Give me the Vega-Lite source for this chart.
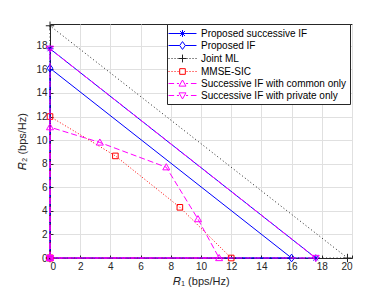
{
  "$schema": "https://vega.github.io/schema/vega-lite/v6.json",
  "width": 302,
  "height": 234,
  "autosize": "none",
  "padding": {"left": 50, "top": 24, "right": 38, "bottom": 35},
  "config": {
    "font": "Liberation Sans",
    "view": {"stroke": "#262626", "strokeWidth": 1},
    "axis": {
      "labelFont": "Liberation Sans", "labelFontSize": 10, "labelColor": "#262626",
      "titleFont": "Liberation Sans", "titleFontSize": 11, "titleFontWeight": "normal", "titleColor": "#262626",
      "domainColor": "#262626", "tickColor": "#262626", "gridColor": "#e0e0e0",
      "tickSize": -3, "labelPadding": 6
    }
  },
  "data": {"values": [
    {"series": "Proposed successive IF", "r1": 0, "r2": 0, "ord": 1},
    {"series": "Proposed successive IF", "r1": 0, "r2": 17.75, "ord": 2},
    {"series": "Proposed successive IF", "r1": 17.6, "r2": 0, "ord": 3},
    {"series": "Proposed successive IF", "r1": 0, "r2": 0, "ord": 4},
    {"series": "Proposed IF", "r1": 0, "r2": 0, "ord": 1},
    {"series": "Proposed IF", "r1": 0, "r2": 16.1, "ord": 2},
    {"series": "Proposed IF", "r1": 16.0, "r2": 0, "ord": 3},
    {"series": "Proposed IF", "r1": 0, "r2": 0, "ord": 4},
    {"series": "Joint ML", "r1": 0, "r2": 0, "ord": 1},
    {"series": "Joint ML", "r1": 0, "r2": 19.7, "ord": 2},
    {"series": "Joint ML", "r1": 19.7, "r2": 0, "ord": 3},
    {"series": "Joint ML", "r1": 0, "r2": 0, "ord": 4},
    {"series": "MMSE-SIC", "r1": 0, "r2": 0, "ord": 1},
    {"series": "MMSE-SIC", "r1": 0, "r2": 12.0, "ord": 2},
    {"series": "MMSE-SIC", "r1": 4.33, "r2": 8.66, "ord": 3},
    {"series": "MMSE-SIC", "r1": 8.6, "r2": 4.3, "ord": 4},
    {"series": "MMSE-SIC", "r1": 12.0, "r2": 0, "ord": 5},
    {"series": "MMSE-SIC", "r1": 0, "r2": 0, "ord": 6},
    {"series": "Successive IF with common only", "r1": 0, "r2": 0, "ord": 1},
    {"series": "Successive IF with common only", "r1": 0, "r2": 11.1, "ord": 2},
    {"series": "Successive IF with common only", "r1": 3.3, "r2": 9.8, "ord": 3},
    {"series": "Successive IF with common only", "r1": 7.7, "r2": 7.7, "ord": 4},
    {"series": "Successive IF with common only", "r1": 9.8, "r2": 3.3, "ord": 5},
    {"series": "Successive IF with common only", "r1": 11.2, "r2": 0, "ord": 6},
    {"series": "Successive IF with common only", "r1": 0, "r2": 0, "ord": 7},
    {"series": "Successive IF with private only", "r1": 0, "r2": 0, "ord": 1},
    {"series": "Successive IF with private only", "r1": 0, "r2": 17.75, "ord": 2},
    {"series": "Successive IF with private only", "r1": 17.6, "r2": 0, "ord": 3},
    {"series": "Successive IF with private only", "r1": 0, "r2": 0, "ord": 4}
  ]},
  "encoding": {
    "x": {"field": "r1", "type": "quantitative", "scale": {"domain": [0, 20], "nice": false},
      "axis": {"values": [0,2,4,6,8,10,12,14,16,18,20], "title": "𝑅₁ (bps/Hz)", "titlePadding": 4}},
    "y": {"field": "r2", "type": "quantitative", "scale": {"domain": [0, 19.85], "nice": false},
      "axis": {"values": [0,2,4,6,8,10,12,14,16,18], "title": "𝑅₂ (bps/Hz)", "titlePadding": 8}},
    "order": {"field": "ord", "type": "quantitative"},
    "color": {"field": "series", "type": "nominal",
      "scale": {"domain": ["Proposed successive IF","Proposed IF","Joint ML","MMSE-SIC","Successive IF with common only","Successive IF with private only"],
        "range": ["#0000ff","#0000ff","#222222","#ff0000","#ff00ff","#ff00ff"]},
      "legend": {
        "title": null, "orient": "none", "legendX": 117, "legendY": 0,
        "fillColor": "white", "strokeColor": "#262626", "padding": 3,
        "symbolSize": 144, "symbolOffset": 6, "labelOffset": 12, "rowPadding": 0,
        "labelFont": "Liberation Sans", "labelFontSize": 10, "labelColor": "#000000",
        "labelLimit": 300,
        "encode": {"symbols": {"update": {
          "shape": {"signal": "['M-2.33,0H2.33M-0.58,0H0.58M0,-0.58V0.58M-0.42,-0.42L0.42,0.42M-0.42,0.42L0.42,-0.42', 'M-2.33,0H-0.47M0.47,0H2.33M0,-0.65L0.47,0L0,0.65L-0.47,0Z', 'M-2.33,0h0.17M-1.83,0h0.17M-1.33,0h0.17M-0.83,0h0.17M0.67,0h0.17M1.17,0h0.17M1.67,0h0.17M2.17,0h0.17M-0.65,0H0.65M0,-0.65V0.65', 'M-2.33,0h0.17M-1.83,0h0.17M-1.33,0h0.17M-0.83,0h0.17M0.67,0h0.17M1.17,0h0.17M1.67,0h0.17M2.17,0h0.17M-0.47,-0.47H0.47V0.47H-0.47Z', 'M-2.33,0H-1.4M-0.93,0H-0.58M0.58,0H0.93M1.4,0H2.33M0,-0.58L0.58,0.44L-0.58,0.44Z', 'M-2.33,0H-1.4M-0.93,0H-0.58M0.58,0H0.93M1.4,0H2.33M0,0.58L0.58,-0.44L-0.58,-0.44Z'][datum.index]"},
          "strokeDash": {"value": []},
          "fill": {"value": "transparent"},
          "strokeWidth": {"value": 1},
          "opacity": {"value": 1}
        }}}
      }}
  },
  "layer": [
    {"transform": [{"filter": {"field": "series", "equal": "Proposed successive IF"}}],
     "mark": {"type": "line", "strokeWidth": 1}},
    {"transform": [{"filter": {"field": "series", "equal": "Proposed successive IF"}}],
     "mark": {"type": "point", "filled": false, "size": 49, "strokeWidth": 1, "opacity": 1, "shape": "M-1,0H1M0,-1V1M-0.7,-0.7L0.7,0.7M-0.7,0.7L0.7,-0.7"}},
    {"transform": [{"filter": {"field": "series", "equal": "Proposed IF"}}],
     "mark": {"type": "line", "strokeWidth": 1}},
    {"transform": [{"filter": {"field": "series", "equal": "Proposed IF"}}],
     "mark": {"type": "point", "filled": false, "size": 49, "strokeWidth": 1, "opacity": 1, "shape": "M0,-1.1L0.8,0L0,1.1L-0.8,0Z"}},
    {"transform": [{"filter": {"field": "series", "equal": "Joint ML"}}],
     "mark": {"type": "line", "strokeWidth": 1, "strokeDash": [1, 2.5]}},
    {"transform": [{"filter": {"field": "series", "equal": "Joint ML"}}],
     "mark": {"type": "point", "filled": false, "size": 49, "strokeWidth": 1, "opacity": 1, "shape": "M-1.2,0H1.2M0,-1.2V1.2"}},
    {"transform": [{"filter": {"field": "series", "equal": "MMSE-SIC"}}],
     "mark": {"type": "line", "strokeWidth": 1, "strokeDash": [1, 2]}},
    {"transform": [{"filter": {"field": "series", "equal": "MMSE-SIC"}}],
     "mark": {"type": "point", "filled": false, "size": 49, "strokeWidth": 1, "opacity": 1, "shape": "M-0.8,-0.8H0.8V0.8H-0.8Z"}},
    {"transform": [{"filter": {"field": "series", "equal": "Successive IF with common only"}}],
     "mark": {"type": "line", "strokeWidth": 1, "strokeDash": [6, 3]}},
    {"transform": [{"filter": {"field": "series", "equal": "Successive IF with common only"}}],
     "mark": {"type": "point", "filled": false, "size": 49, "strokeWidth": 1, "opacity": 1, "shape": "M0,-1L1,0.75L-1,0.75Z"}},
    {"transform": [{"filter": {"field": "series", "equal": "Successive IF with private only"}}],
     "mark": {"type": "line", "strokeWidth": 1, "strokeDash": [6, 3]}},
    {"transform": [{"filter": {"field": "series", "equal": "Successive IF with private only"}}],
     "mark": {"type": "point", "filled": false, "size": 49, "strokeWidth": 1, "opacity": 1, "shape": "M0,1L1,-0.75L-1,-0.75Z"}}
  ]
}
